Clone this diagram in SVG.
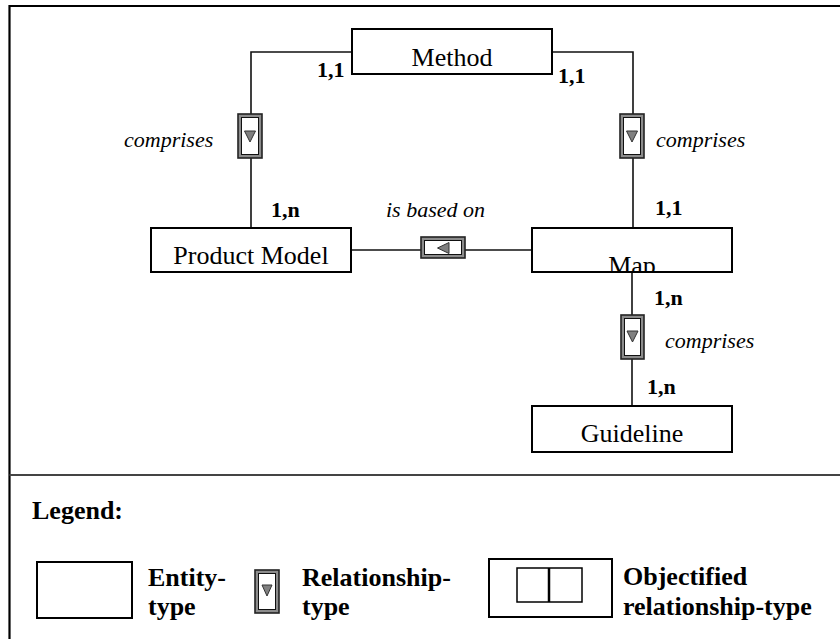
<svg xmlns="http://www.w3.org/2000/svg" width="840" height="639" viewBox="0 0 840 639">
<style>
.ent{fill:#fff;stroke:#000;stroke-width:2}
.con{fill:none;stroke:#111;stroke-width:1.6}
.relo{fill:#8c8c8c;stroke:#222;stroke-width:1.6}
.reli{fill:#fff;stroke:#111;stroke-width:1}
.tri{fill:#808080;stroke:#333;stroke-width:1}
.name{font-family:"Liberation Serif","Times New Roman",serif;font-size:26px;fill:#000;text-anchor:middle}
.card{font-family:"Liberation Serif","Times New Roman",serif;font-size:22px;font-weight:bold;fill:#000}
.lab{font-family:"Liberation Serif","Times New Roman",serif;font-size:22px;font-style:italic;fill:#000}
.leg{font-family:"Liberation Serif","Times New Roman",serif;font-size:26px;font-weight:bold;fill:#000}
</style>
<defs>
<clipPath id="mapclip"><rect x="533" y="229" width="198" height="42"/></clipPath>
</defs>
<rect x="0" y="0" width="840" height="639" fill="#fff"/>
<g id="frame">
<path d="M9.5,639 V6 H840" fill="none" stroke="#000" stroke-width="2.2"/>
<line x1="9.5" y1="475" x2="840" y2="475" stroke="#444" stroke-width="1.8"/>
</g>
<g id="connectors">
<path class="con" d="M352,52 H251 V228"/>
<path class="con" d="M552,52 H633 V228"/>
<path class="con" d="M632,272 V406"/>
<path class="con" d="M351,250 H532"/>
</g>
<g id="method">
<rect class="ent" x="352" y="29" width="200" height="45"/>
<text class="name" x="452" y="66">Method</text>
</g>
<g id="product-model">
<rect class="ent" x="151" y="228" width="200" height="44"/>
<text class="name" x="251" y="264">Product Model</text>
</g>
<g id="map">
<rect class="ent" x="532" y="228" width="200" height="44"/>
<text class="name" x="632" y="274" clip-path="url(#mapclip)">Map</text>
</g>
<g id="guideline">
<rect class="ent" x="532" y="406" width="200" height="46"/>
<text class="name" x="632" y="442">Guideline</text>
</g>
<g id="rel-comprises-left">
<rect class="relo" x="238" y="114" width="24" height="44"/>
<rect class="reli" x="241.5" y="117.5" width="17" height="37"/>
<polygon class="tri" points="244.5,131 255.5,131 250,142"/>
<text class="lab" x="124" y="147">comprises</text>
</g>
<g id="rel-comprises-right">
<rect class="relo" x="620" y="114" width="24" height="44"/>
<rect class="reli" x="623.5" y="117.5" width="17" height="37"/>
<polygon class="tri" points="626.5,131 637.5,131 632,142"/>
<text class="lab" x="656" y="147">comprises</text>
</g>
<g id="rel-is-based-on">
<rect class="relo" x="421" y="237" width="44" height="21"/>
<rect class="reli" x="424.5" y="240.5" width="37" height="14"/>
<polygon class="tri" points="449,242.5 449,253.5 437.5,248"/>
<text class="lab" x="386" y="217">is based on</text>
</g>
<g id="rel-comprises-bottom">
<rect class="relo" x="621" y="315" width="23" height="44"/>
<rect class="reli" x="624.5" y="318.5" width="16" height="37"/>
<polygon class="tri" points="627,331 638,331 632.5,342"/>
<text class="lab" x="665" y="348">comprises</text>
</g>
<g id="cardinalities">
<text class="card" x="317" y="77">1,1</text>
<text class="card" x="558" y="83">1,1</text>
<text class="card" x="271" y="217">1,n</text>
<text class="card" x="655" y="215">1,1</text>
<text class="card" x="654" y="305">1,n</text>
<text class="card" x="647" y="394">1,n</text>
</g>
<g id="legend">
<text class="leg" x="32" y="519">Legend:</text>
<rect x="37" y="562" width="95" height="56" fill="#fff" stroke="#000" stroke-width="2"/>
<text class="leg" x="148" y="586">Entity-</text>
<text class="leg" x="148" y="615">type</text>
<rect class="relo" x="255" y="570" width="24" height="43"/>
<rect class="reli" x="258.5" y="573.5" width="17" height="36"/>
<polygon class="tri" points="262,585 272,585 267,596"/>
<text class="leg" x="302" y="586">Relationship-</text>
<text class="leg" x="302" y="615">type</text>
<rect x="489" y="559" width="123" height="58" fill="#fff" stroke="#000" stroke-width="2"/>
<rect x="517" y="568" width="65" height="34" fill="#fff" stroke="#000" stroke-width="1.5"/>
<line x1="549" y1="568" x2="549" y2="602" stroke="#000" stroke-width="2.5"/>
<text class="leg" x="623" y="585">Objectified</text>
<text class="leg" x="623" y="615">relationship-type</text>
</g>
</svg>
